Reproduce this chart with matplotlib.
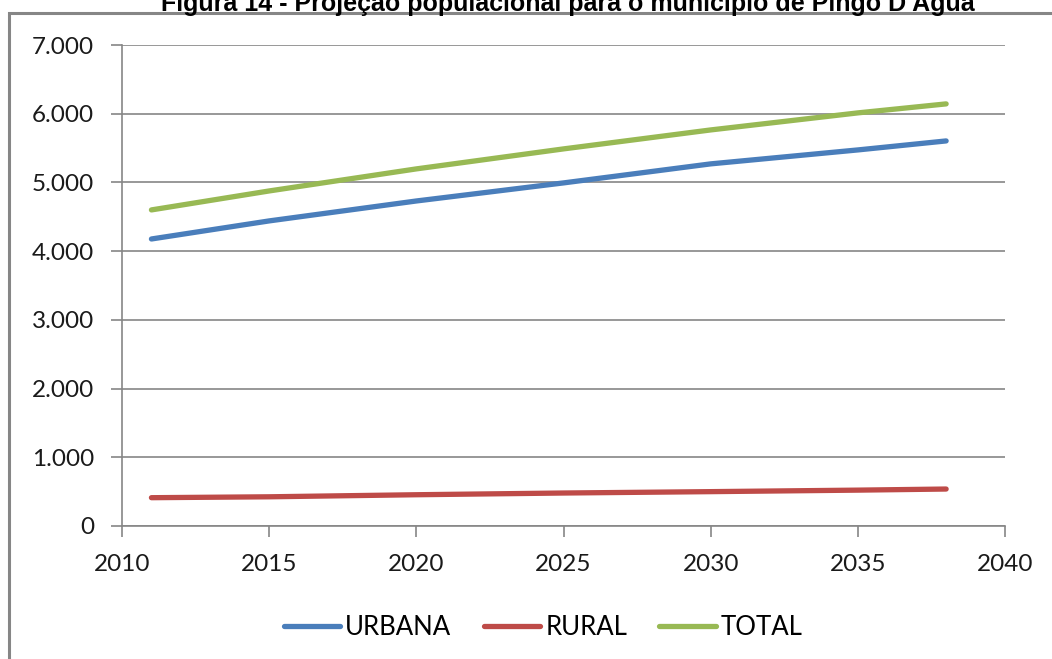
import matplotlib.pyplot as plt
from matplotlib.patches import Rectangle
from matplotlib.ticker import FuncFormatter

# Projected population
anos = [2011, 2015, 2020, 2025, 2030, 2035, 2038]
urbana = [4177, 4440, 4730, 4993, 5270, 5473, 5604]
rural = [412, 425, 455, 480, 500, 522, 538]
total = [4600, 4876, 5197, 5488, 5764, 6012, 6143]

titulo = "Figura 14 - Projeção populacional para o município de Pingo D'Água"

plt.rcParams['font.family'] = ['Lato', 'DejaVu Sans']

fig = plt.figure(figsize=(10.52, 6.59), dpi=100)
ax = fig.add_axes([122 / 1052, 1 - 526 / 659, (1005 - 122) / 1052, (526 - 45) / 659])

# outer chart frame (right/bottom edges run off the picture)
fig.patches.append(Rectangle((9 / 1052, -0.1), 1.2, 1 - 13 / 659 + 0.1,
                             transform=fig.transFigure, fill=False,
                             edgecolor='#868686', linewidth=2.2, zorder=0))

# title sits partly above the top edge, as in the scanned page
fig.text(0.540, 1 - 11 / 659, titulo, ha='center', va='baseline',
         fontsize=18, fontweight='bold', family='Liberation Sans')

ax.plot(anos, urbana, color='#4a7ebb', lw=3.8, solid_capstyle='round', label='URBANA')
ax.plot(anos, rural, color='#be4b48', lw=3.8, solid_capstyle='round', label='RURAL')
ax.plot(anos, total, color='#98b954', lw=3.8, solid_capstyle='round', label='TOTAL')

ax.set_xlim(2010, 2040)
ax.set_ylim(0, 7000)
ax.set_xticks(range(2010, 2041, 5))
ax.set_yticks(range(0, 7001, 1000))
ax.yaxis.set_major_formatter(FuncFormatter(lambda v, p: f"{int(v):,}".replace(',', '.')))

ax.grid(axis='y', color='#868686', lw=1.2)
ax.set_axisbelow(True)
for s in ['top', 'right']:
    ax.spines[s].set_visible(False)
for s in ['left', 'bottom']:
    ax.spines[s].set_color('#868686')
    ax.spines[s].set_linewidth(1.2)
ax.tick_params(axis='both', colors='#868686', labelcolor='#1a1a1a',
               length=8, width=1.2, labelsize=17.5)
ax.tick_params(axis='x', pad=12)
ax.tick_params(axis='y', pad=12)

ax.legend(loc='center', bbox_to_anchor=(0.477, -0.21), ncol=3, frameon=False,
          fontsize=18.5, handlelength=2.2, handletextpad=0.2, columnspacing=1.25)

fig.savefig('out.png', dpi=100)
